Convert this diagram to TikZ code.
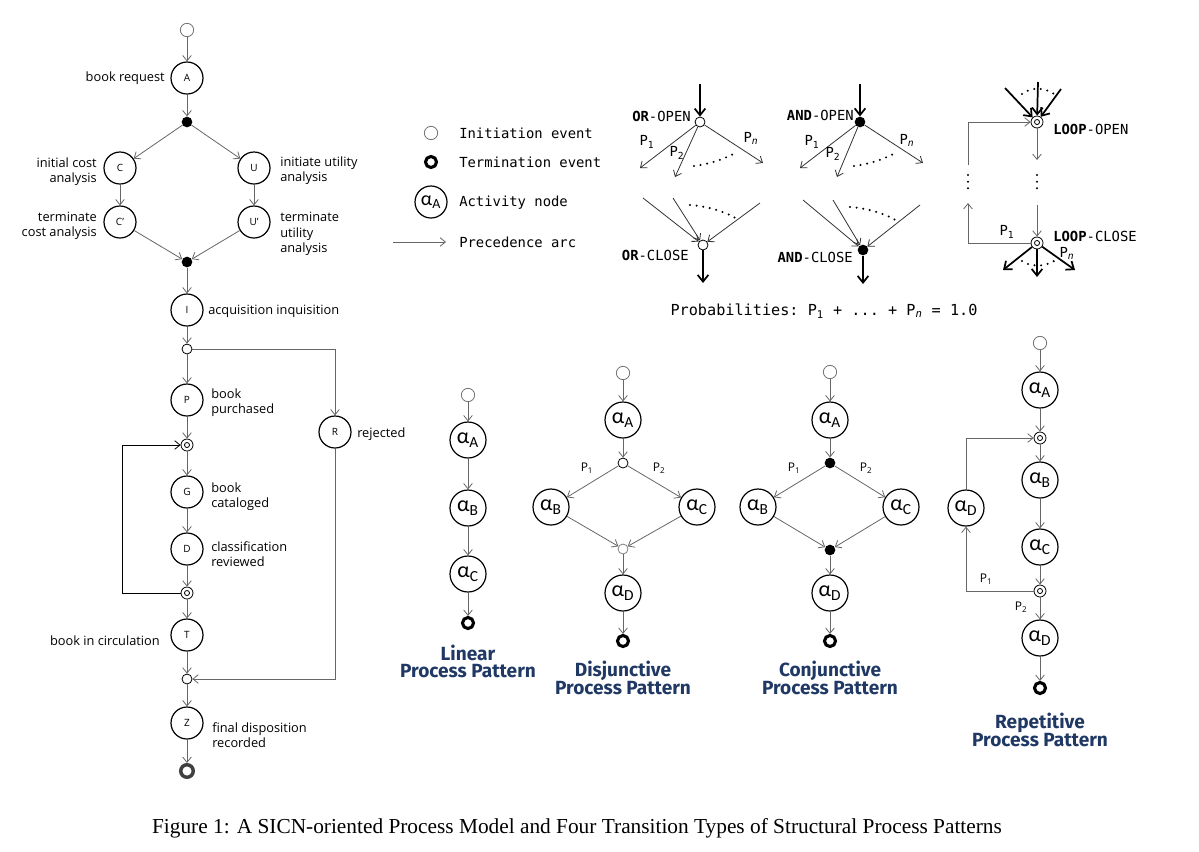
\documentclass[tikz,border=0pt]{standalone}
\usepackage{fontspec}
\setmainfont{Liberation Serif}
\setsansfont{Open Sans}
\setmonofont{DejaVu Sans Mono}
\newfontfamily\alphafont{Carlito}
\newfontfamily\titlefont{Fira Sans}
\usetikzlibrary{arrows.meta}
\definecolor{navy}{HTML}{1F3864}
\definecolor{arcgray}{gray}{0.4}
\begin{document}
\begin{tikzpicture}[x=0.75pt, y=-0.75pt,
    >={Straight Barb[length=4pt,width=6.5pt]},
    act/.style={circle, draw, line width=0.9pt, minimum size=24pt,
      inner sep=0pt, font=\sffamily\fontsize{7.5}{8}\selectfont},
    pat/.style={circle, draw, line width=0.9pt, minimum size=27pt,
      inner sep=0pt, font=\alphafont\fontsize{16.5}{16}\selectfont},
    init/.style={circle, draw=black!55, fill=white, line width=0.6pt,
      minimum size=10pt, inner sep=0pt},
    term/.style={circle, draw, line width=2.3pt, minimum size=8.3pt,
      inner sep=0pt},
    ornode/.style={circle, draw, fill=white, line width=0.6pt,
      minimum size=7.5pt, inner sep=0pt},
    andnode/.style={circle, fill, minimum size=8pt, inner sep=0pt},
    loopnode/.style={circle, draw, line width=0.6pt, minimum size=9pt,
      inner sep=0pt, path picture={\draw[line width=0.6pt]
        (path picture bounding box.center) circle (1.9pt);}},
    lbl/.style={font=\sffamily\fontsize{9.6}{11.4}\selectfont, inner sep=0pt},
    legend/.style={font=\ttfamily\fontsize{10.4}{12}\selectfont, inner sep=0pt},
    prob/.style={font=\sffamily\fontsize{9}{10}\selectfont, inner sep=0pt},
    pattitle/.style={font=\titlefont\bfseries\fontsize{14.3}{12.8}\selectfont,
      text=navy, align=center},
    flow/.style={->, draw=arcgray, line width=0.6pt},
    bigarc/.style={->, draw=black, line width=1.3pt,
      >={Straight Barb[length=5pt,width=8pt]}},
    dotrow/.style={draw, line width=1.7pt, line cap=round,
      dash pattern=on 0pt off 5pt}]
  \useasboundingbox (0,0) rectangle (1199,851);

  % process model
  \node[init] (s) at (187,30) {};
  \node[act] (A) at (187,78) {A};
  \node[andnode] (f1) at (187,122) {};
  \node[act] (C) at (120,168) {C}; \node[act] (U) at (254,168) {U};
  \node[act] (C2) at (120,222) {C'}; \node[act] (U2) at (254,222) {U'};
  \node[andnode] (j1) at (187,262) {};
  \node[act] (I) at (187,310) {I};
  \node[ornode] (o1) at (187,349) {};
  \node[act] (P) at (187,400) {P}; \node[act] (R) at (335,432) {R};
  \node[loopnode] (l1) at (187,445) {};
  \node[act] (G) at (187,492) {G};
  \node[act] (D) at (187,549) {D};
  \node[loopnode] (l2) at (187,593) {};
  \node[act] (T) at (187,635) {T};
  \node[ornode] (o2) at (187,679) {};
  \node[act] (Z) at (187,723) {Z};
  \node[term, draw=black!75, line width=2.6pt, minimum size=9.4pt] (e) at (187,771) {};
  \coordinate (k) at (122,593);

  \begin{scope}[lbl]
    \node[anchor=east] at (165,78) {book request};
    \node[anchor=east, align=right] at (97,172) {initial cost\\analysis};
    \node[anchor=west, align=left] at (280,171) {initiate utility\\analysis};
    \node[anchor=east, align=right] at (97,226) {terminate\\cost analysis};
    \node[anchor=west, align=left] at (280,234) {terminate\\utility\\analysis};
    \node[anchor=west] at (208,311) {acquisition inquisition};
    \node[anchor=west, align=left] at (211,403) {book\\purchased};
    \node[anchor=west] at (357,434) {rejected};
    \node[anchor=west, align=left] at (211,497) {book\\cataloged};
    \node[anchor=west, align=left] at (211,554) {classification\\reviewed};
    \node[anchor=east] at (160,641) {book in circulation};
    \node[anchor=west, align=left] at (212,735) {final disposition\\recorded};
  \end{scope}

  \begin{scope}[flow]
    \draw (s) -- (A); \draw (A) -- (f1); \draw (f1) -- (C); \draw (f1) -- (U);
    \draw (C) -- (C2); \draw (U) -- (U2); \draw (C2) -- (j1); \draw (U2) -- (j1);
    \draw (j1) -- (I); \draw (I) -- (o1); \draw (o1) -- (P); \draw (o1) -| (R);
    \draw (P) -- (l1); \draw (l1) -- (G); \draw (G) -- (D); \draw (D) -- (l2);
    \draw (l2) -- (T); \draw (T) -- (o2); \draw (R) |- (o2);
    \draw (o2) -- (Z); \draw (Z) -- (e);
    \draw[draw=black] (l2) -- (k) |- (l1);
  \end{scope}

  % legend
  \node[init] (k1) at (431,133) {};
  \node[term] (k2) at (431,162) {};
  \node[pat, minimum size=24pt, font=\alphafont\fontsize{15}{15}\selectfont] (k3) at (431,202) {α\textsubscript{A}};
  \coordinate (k4) at (393,242); \coordinate (k5) at (446,242);
  \draw[flow] (k4) -- (k5);
  \begin{scope}[legend]
    \node[anchor=west] at (459,133) {Initiation event};
    \node[anchor=west] at (459,162) {Termination event};
    \node[anchor=west] at (459,203) {Activity node};
    \node[anchor=west] at (459,242) {Precedence arc};
  \end{scope}

  % OR-OPEN / OR-CLOSE
  \node[ornode] (oo) at (700,122) {};
  \coordinate (ooi) at (700,84);
  \coordinate (oo1) at (640,168); \coordinate (oo2) at (675,177);
  \coordinate (oo3) at (763,163);
  \draw[bigarc] (ooi) -- (oo);
  \draw[flow, draw=black!80] (oo) -- (oo1); \draw[flow, draw=black!80] (oo) -- (oo2);
  \draw[flow, draw=black!80] (oo) -- (oo3);
  \draw[dotrow] (694,166) .. controls (710,164) and (725,159) .. (737,152);
  \node[ornode] (oc) at (703,245) {};
  \coordinate (oc1) at (643,198); \coordinate (oc2) at (673,198);
  \coordinate (oc3) at (760,203); \coordinate (oco) at (703,283);
  \draw[flow, draw=black!80] (oc1) -- (oc); \draw[flow, draw=black!80] (oc2) -- (oc);
  \draw[flow, draw=black!80] (oc3) -- (oc);
  \draw[bigarc] (oc) -- (oco);
  \draw[dotrow] (690,205) .. controls (705,206) and (725,211) .. (737,219);
  \begin{scope}[legend]
    \node[anchor=east] at (691,116) {\textbf{OR}-OPEN};
    \node[anchor=east] at (689,255) {\textbf{OR}-CLOSE};
    \node at (647,142) {P\textsubscript{1}};
    \node at (677,153) {P\textsubscript{2}};
    \node at (751,138) {P\textsubscript{\textit{n}}};
  \end{scope}

  % AND-OPEN / AND-CLOSE
  \node[andnode] (ao) at (860,122) {};
  \coordinate (aoi) at (860,84);
  \coordinate (ao1) at (800,168); \coordinate (ao2) at (837,177);
  \coordinate (ao3) at (923,163);
  \draw[bigarc] (aoi) -- (ao);
  \draw[flow, draw=black!80] (ao) -- (ao1); \draw[flow, draw=black!80] (ao) -- (ao2);
  \draw[flow, draw=black!80] (ao) -- (ao3);
  \draw[dotrow] (854,166) .. controls (870,164) and (885,159) .. (897,152);
  \node[andnode] (ac) at (863,250) {};
  \coordinate (ac1) at (803,200); \coordinate (ac2) at (833,200);
  \coordinate (ac3) at (920,205); \coordinate (aco) at (863,284);
  \draw[flow, draw=black!80] (ac1) -- (ac); \draw[flow, draw=black!80] (ac2) -- (ac);
  \draw[flow, draw=black!80] (ac3) -- (ac);
  \draw[bigarc] (ac) -- (aco);
  \draw[dotrow] (850,207) .. controls (865,208) and (885,213) .. (897,221);
  \begin{scope}[legend]
    \node[anchor=east] at (854,115) {\textbf{AND}-OPEN};
    \node[anchor=east] at (853,257) {\textbf{AND}-CLOSE};
    \node at (812,142) {P\textsubscript{1}};
    \node at (833,154) {P\textsubscript{2}};
    \node at (907,140) {P\textsubscript{\textit{n}}};
  \end{scope}

  % LOOP-OPEN / LOOP-CLOSE
  \node[loopnode] (lo) at (1037,122) {};
  \coordinate (lo1) at (1005,88); \coordinate (lo2) at (1038,82);
  \coordinate (lo3) at (1061,89); \coordinate (lod) at (1037,160);
  \draw[bigarc] (lo1) -- (lo); \draw[bigarc] (lo2) -- (lo);
  \draw[bigarc] (lo3) -- (lo);
  \draw[dotrow] (1022,94) .. controls (1030,87) and (1045,87) .. (1054,94);
  \draw[flow] (lo) -- (lod);
  \draw[dotrow] (1037,175) -- (1037,192);
  \node[loopnode] (lc) at (1037,243) {};
  \coordinate (lcu) at (1037,205);
  \coordinate (lc1) at (1003,270); \coordinate (lc2) at (1037,277);
  \coordinate (lc3) at (1075,270);
  \draw[flow] (lcu) -- (lc);
  \draw[bigarc] (lc) -- (lc1); \draw[bigarc] (lc) -- (lc2);
  \draw[bigarc] (lc) -- (lc3);
  \draw[dotrow] (1022,261) .. controls (1030,267) and (1045,267) .. (1054,261);
  \coordinate (lb1) at (968,243); \coordinate (lb2) at (968,203);
  \coordinate (lb3) at (968,165);
  \draw[flow] (lc) -- (lb1) -- (lb2);
  \draw[dotrow] (968,175) -- (968,192);
  \draw[flow] (lb3) |- (lo);
  \begin{scope}[legend]
    \node[anchor=west] at (1053,129) {\textbf{LOOP}-OPEN};
    \node[anchor=west] at (1053,236) {\textbf{LOOP}-CLOSE};
    \node at (1007,232) {P\textsubscript{1}};
    \node at (1067,253) {P\textsubscript{\textit{n}}};
  \end{scope}
  \node[legend, font=\ttfamily\fontsize{11.4}{12}\selectfont] at (824,311)
    {Probabilities: P\textsubscript{1} + ... + P\textsubscript{\textit{n}} = 1.0};

  % linear pattern
  \node[init] (ls) at (468,395) {};
  \node[pat] (la) at (468,440) {α\textsubscript{A}};
  \node[pat] (lb) at (468,508) {α\textsubscript{B}};
  \node[pat] (lc0) at (468,574) {α\textsubscript{C}};
  \node[term] (le) at (468,623) {};
  \draw[flow] (ls) -- (la); \draw[flow] (la) -- (lb);
  \draw[flow] (lb) -- (lc0); \draw[flow] (lc0) -- (le);
  \node[pattitle] at (468,661) {Linear\\Process Pattern};

  % disjunctive pattern
  \node[init] (ds) at (623,373) {};
  \node[pat] (da) at (623,420) {α\textsubscript{A}};
  \node[ornode] (do1) at (623,463) {};
  \node[pat] (db) at (551,507) {α\textsubscript{B}};
  \node[pat] (dc) at (697,507) {α\textsubscript{C}};
  \node[ornode, draw=black!50] (do2) at (623,549) {};
  \node[pat] (dd) at (623,593) {α\textsubscript{D}};
  \node[term] (de) at (623,641) {};
  \begin{scope}[flow]
    \draw (ds) -- (da); \draw (da) -- (do1); \draw (do1) -- (db);
    \draw (do1) -- (dc); \draw (db) -- (do2); \draw (dc) -- (do2);
    \draw (do2) -- (dd); \draw (dd) -- (de);
  \end{scope}
  \node[prob] at (587,468) {P\textsubscript{1}};
  \node[prob] at (659,468) {P\textsubscript{2}};
  \node[pattitle] at (623,678) {Disjunctive\\Process Pattern};

  % conjunctive pattern
  \node[init] (cs) at (830,372) {};
  \node[pat] (ca) at (830,420) {α\textsubscript{A}};
  \node[andnode] (cf) at (830,463) {};
  \node[pat] (cb) at (758,507) {α\textsubscript{B}};
  \node[pat] (cc) at (901,507) {α\textsubscript{C}};
  \node[andnode] (cj) at (830,550) {};
  \node[pat] (cd) at (830,593) {α\textsubscript{D}};
  \node[term] (ce) at (830,641) {};
  \begin{scope}[flow]
    \draw (cs) -- (ca); \draw (ca) -- (cf); \draw (cf) -- (cb);
    \draw (cf) -- (cc); \draw (cb) -- (cj); \draw (cc) -- (cj);
    \draw (cj) -- (cd); \draw (cd) -- (ce);
  \end{scope}
  \node[prob] at (794,468) {P\textsubscript{1}};
  \node[prob] at (866,468) {P\textsubscript{2}};
  \node[pattitle] at (830,678) {Conjunctive\\Process Pattern};

  % repetitive pattern
  \node[init] (rs) at (1040,343) {};
  \node[pat] (ra) at (1040,390) {α\textsubscript{A}};
  \node[loopnode] (r1) at (1040,438) {};
  \node[pat] (rb) at (1040,480) {α\textsubscript{B}};
  \node[pat] (rc) at (1040,547) {α\textsubscript{C}};
  \node[loopnode] (r2) at (1040,591) {};
  \node[pat] (rd) at (1040,638) {α\textsubscript{D}};
  \node[term] (re) at (1040,688) {};
  \node[pat] (rx) at (966,508) {α\textsubscript{D}};
  \begin{scope}[flow]
    \draw (rs) -- (ra); \draw (ra) -- (r1); \draw (r1) -- (rb);
    \draw (rb) -- (rc); \draw (rc) -- (r2); \draw (r2) -- (rd);
    \draw (rd) -- (re); \draw (r2) -| (rx); \draw (rx) |- (r1);
  \end{scope}
  \node[prob] at (986,579) {P\textsubscript{1}};
  \node[prob] at (1021,607) {P\textsubscript{2}};
  \node[pattitle] at (1040,730) {Repetitive\\Process Pattern};

  \node[font=\rmfamily\fontsize{16}{18}\selectfont] (cap) at (577,828)
    {Figure 1: A SICN-oriented Process Model and Four Transition Types of Structural Process Patterns};
\end{tikzpicture}
\end{document}
